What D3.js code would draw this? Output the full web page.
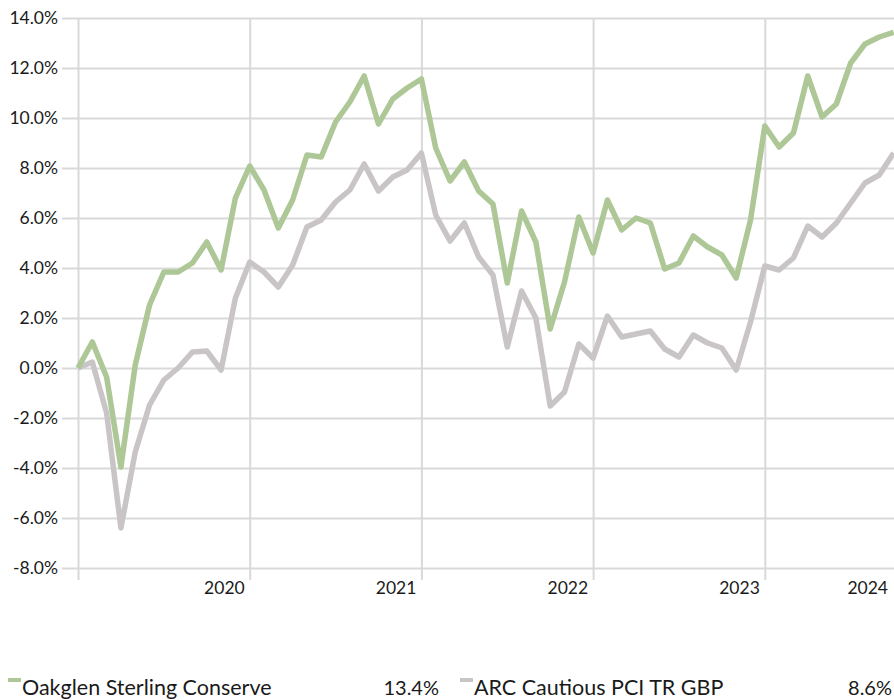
<!DOCTYPE html>
<html>
<head>
<meta charset="utf-8">
<script src="https://cdn.jsdelivr.net/npm/d3@7"></script>
<style>
  body { margin: 0; background: #fff; }
  svg { display: block; font-family: Lato, "Liberation Sans", sans-serif; }
  .grid line { stroke: #d9d9d9; stroke-width: 2; }
  .grid path { display: none; }
  .ylab text, .xlab text { fill: #1a1a1a; }
</style>
</head>
<body>
<script>
const width = 894;
const height = 700;

// monthly cumulative performance, %
const fundName = "Oakglen Sterling Conserve";
const benchName = "ARC Cautious PCI TR GBP";
const fundValues = [0, 1.04, -0.36, -3.96, 0.12, 2.52, 3.84, 3.84, 4.2, 5.04,
  3.92, 6.8, 8.08, 7.12, 5.6, 6.72, 8.52, 8.44, 9.84, 10.64,
  11.68, 9.76, 10.76, 11.2, 11.56, 8.8, 7.48, 8.24, 7.08, 6.56,
  3.4, 6.28, 5.04, 1.56, 3.44, 6.04, 4.6, 6.72, 5.52, 6.0,
  5.8, 3.96, 4.2, 5.28, 4.84, 4.52, 3.6, 5.92, 9.68, 8.84,
  9.4, 11.68, 10.04, 10.56, 12.2, 12.96, 13.24, 13.43];
const benchValues = [0, 0.24, -1.8, -6.4, -3.36, -1.48, -0.48, 0.0, 0.64, 0.68,
  -0.08, 2.8, 4.24, 3.84, 3.24, 4.12, 5.64, 5.92, 6.64, 7.12,
  8.16, 7.08, 7.64, 7.92, 8.6, 6.12, 5.08, 5.8, 4.44, 3.72,
  0.84, 3.08, 2.0, -1.52, -0.96, 0.96, 0.4, 2.08, 1.24, 1.36,
  1.48, 0.76, 0.44, 1.32, 1.0, 0.8, -0.08, 1.84, 4.08, 3.92,
  4.4, 5.68, 5.24, 5.8, 6.6, 7.4, 7.72, 8.6];
const yearLabels = ["2020", "2021", "2022", "2023", "2024"];
const yearStarts = [0, 12, 24, 36, 48]; // month index of the vertical gridlines
const yTicks = [-8, -6, -4, -2, 0, 2, 4, 6, 8, 10, 12, 14];

const fundColor = "#adc796";
const benchColor = "#c9c5c6";

const svg = d3.select("body")
  .append("svg")
  .attr("width", width)
  .attr("height", height);

const x = d3.scaleLinear().domain([0, fundValues.length - 1]).range([78, 893.6]);
const y = d3.scaleLinear().domain([-8, 14]).range([568, 18]);

// horizontal gridlines
svg.append("g")
  .attr("class", "grid")
  .attr("transform", "translate(894,0)")
  .call(d3.axisLeft(y).tickValues(yTicks).tickSize(894 - 62).tickFormat(""));

// vertical gridlines, running a little below the axis as tick marks
svg.append("g")
  .attr("class", "grid")
  .attr("transform", "translate(0,580)")
  .call(d3.axisTop(x).tickValues(yearStarts).tickSize(580 - 18).tickFormat(""));

// y labels
svg.append("g")
  .attr("class", "ylab")
  .selectAll("text")
  .data(yTicks)
  .join("text")
  .attr("x", 58)
  .attr("y", d => y(d))
  .attr("dy", "0.36em")
  .attr("text-anchor", "end")
  .style("font-size", "17.5px")
  .text(d => d.toFixed(1) + "%");

// x labels sit just left of the next year's gridline, last one pulled inside
svg.append("g")
  .attr("class", "xlab")
  .selectAll("text")
  .data(yearLabels)
  .join("text")
  .attr("x", (d, i) => Math.min(x(yearStarts[i] + 12) - 5, width - 6))
  .attr("y", 594)
  .attr("text-anchor", "end")
  .style("font-size", "17.5px")
  .text(d => d);

const line = d3.line()
  .x((d, i) => x(i))
  .y(d => y(d));

svg.append("path")
  .datum(benchValues)
  .attr("fill", "none")
  .attr("stroke", benchColor)
  .attr("stroke-width", 5.5)
  .attr("stroke-linejoin", "round")
  .attr("d", line);

svg.append("path")
  .datum(fundValues)
  .attr("fill", "none")
  .attr("stroke", fundColor)
  .attr("stroke-width", 5.5)
  .attr("stroke-linejoin", "round")
  .attr("d", line);

// legend
const legendItems = [
  { name: fundName, value: fundValues[fundValues.length - 1], color: fundColor, x0: 8, x1: 439 },
  { name: benchName, value: benchValues[benchValues.length - 1], color: benchColor, x0: 460, x1: 892 }
];

const legend = svg.append("g")
  .selectAll("g")
  .data(legendItems)
  .join("g");

legend.append("rect")
  .attr("x", d => d.x0)
  .attr("y", 678)
  .attr("width", 13)
  .attr("height", 4)
  .attr("fill", d => d.color);

legend.append("text")
  .attr("x", d => d.x0 + 14)
  .attr("y", 695)
  .style("font-size", "21.5px")
  .attr("fill", "#1a1a1a")
  .text(d => d.name);

legend.append("text")
  .attr("x", d => d.x1)
  .attr("y", 695)
  .attr("text-anchor", "end")
  .style("font-size", "20px")
  .attr("fill", "#1a1a1a")
  .text(d => d.value.toFixed(1) + "%");
</script>
</body>
</html>
